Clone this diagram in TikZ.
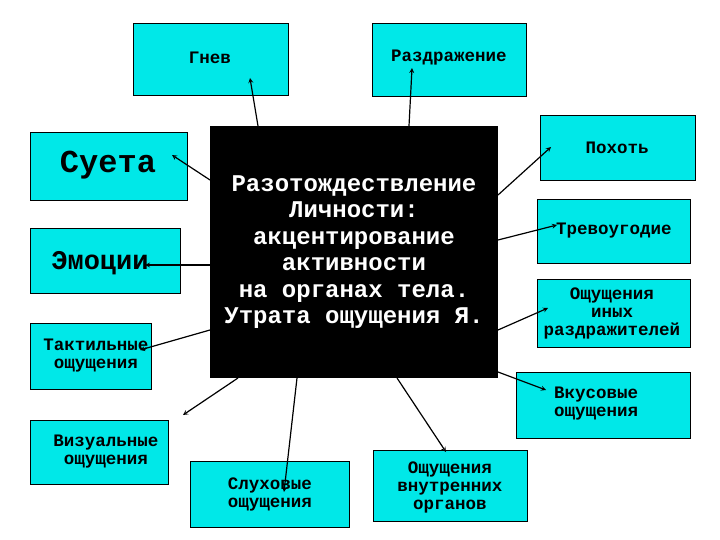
\documentclass[tikz,border=0pt]{standalone}
\usepackage{fontspec}
\setmainfont{Liberation Mono}
\definecolor{bc}{RGB}{0,232,232}
\begin{document}
\begin{tikzpicture}[x=1pt,y=-1pt,
  bx/.style={draw=black,fill=bc,line width=1pt,inner sep=0pt},
  sm/.style={font=\bfseries\fontsize{17.5}{18}\selectfont,align=center},
  ar/.style={-stealth,line width=1.2pt}]
\useasboundingbox (0,0) rectangle (720,540);
\newcommand{\bxat}[5]{\node[bx,minimum width=#3-#1,minimum height=#4-#2,anchor=north west] (#5) at (#1,#2) {};}
\bxat{133}{23}{288}{95}{gn}
\node[sm] at (210,58) {Гнев};
\bxat{372}{23}{526}{96}{rz}
\node[sm] at (449,58) {Раздражение};
\bxat{30}{132}{187}{200}{su}
\node[font=\bfseries\fontsize{32}{34}\selectfont] at (108,165) {Суета};
\bxat{30}{228}{180}{293}{em}
\node[font=\bfseries\fontsize{27}{28}\selectfont] at (100,263) {Эмоции};
\bxat{30}{323}{151}{389}{ta}
\node[sm] at (96,356) {Тактильные\\ощущения};
\bxat{30}{420}{168}{484}{vi}
\node[sm] at (106,452) {Визуальные\\ощущения};
\bxat{190}{461}{349}{527}{sl}
\node[sm] at (270,494) {Слуховые\\ощущения};
\bxat{373}{450}{527}{521}{vn}
\node[sm] at (450,487) {Ощущения\\внутренних\\органов};
\bxat{516}{372}{690}{438}{vk}
\node[sm] at (596,404) {Вкусовые\\ощущения};
\bxat{537}{279}{690}{347}{in}
\node[sm] at (612,313) {Ощущения\\иных\\раздражителей};
\bxat{537}{199}{690}{263}{tr}
\node[sm] at (614,231) {Тревоугодие};
\bxat{540}{115}{695}{180}{po}
\node[sm] at (617,148) {Похоть};
\node[fill=black,minimum width=288,minimum height=252,anchor=north west,inner sep=0pt] (c) at (210,126) {};
\node[text=white,font=\bfseries\fontsize{24}{26.5}\selectfont,align=center] at (354,252) {Разотождествление\\Личности:\\акцентирование\\активности\\на органах тела.\\Утрата ощущения Я.};
\coordinate (g) at (250,78); \draw[ar] (258,126) -- (g);
\coordinate (r) at (412,68); \draw[ar] (409,126) -- (r);
\coordinate (s) at (172,155); \draw[ar] (210,180) -- (s);
\coordinate (e) at (145,265); \draw[ar] (210,265) -- (e);
\coordinate (t) at (140,350); \draw[ar] (210,330) -- (t);
\coordinate (v) at (183,415); \draw[ar] (238,378) -- (v);
\coordinate (h) at (284,492); \draw[ar] (297,378) -- (h);
\coordinate (o) at (446,452); \draw[ar] (397,378) -- (o);
\coordinate (k) at (546,390); \draw[ar] (498,372) -- (k);
\coordinate (i) at (548,308); \draw[ar] (498,330) -- (i);
\coordinate (q) at (557,225); \draw[ar] (498,240) -- (q);
\coordinate (p) at (551,147); \draw[ar] (498,195) -- (p);
\end{tikzpicture}
\end{document}
